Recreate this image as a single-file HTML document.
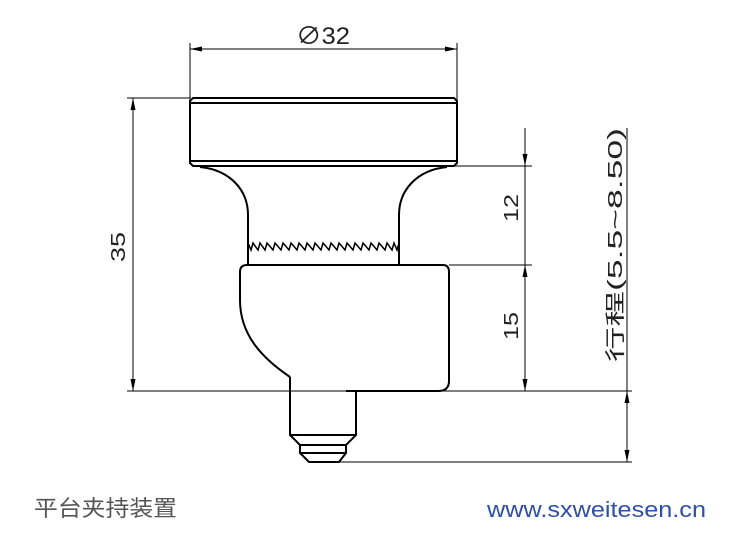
<!DOCTYPE html>
<html><head><meta charset="utf-8"><style>
html,body{margin:0;padding:0;background:#fff;}
svg{display:block}
</style></head><body>
<svg width="741" height="538" viewBox="0 0 741 538" xmlns="http://www.w3.org/2000/svg">
<defs>
<marker id="a" viewBox="0 0 12 6" refX="12" refY="3" markerWidth="12" markerHeight="6" markerUnits="userSpaceOnUse" orient="auto-start-reverse"><path d="M0,0.5 L12,3 L0,5.5z" fill="#000"/></marker>
</defs>
<g fill="none" stroke="#000" stroke-width="1">
<line x1="190" y1="43" x2="190" y2="100"/>
<line x1="457" y1="43" x2="457" y2="100"/>
<line x1="190" y1="49" x2="457" y2="49" marker-start="url(#a)" marker-end="url(#a)"/>
<line x1="127" y1="98" x2="190" y2="98"/>
<line x1="127" y1="391" x2="632" y2="391"/>
<line x1="133" y1="98" x2="133" y2="391" marker-start="url(#a)" marker-end="url(#a)"/>
<line x1="447" y1="166" x2="532" y2="166"/>
<line x1="449" y1="265" x2="532" y2="265"/>
<line x1="525" y1="128" x2="525" y2="166" marker-end="url(#a)"/>
<line x1="525" y1="166" x2="525" y2="265"/>
<line x1="525" y1="265" x2="525" y2="391" marker-start="url(#a)" marker-end="url(#a)"/>
<line x1="627" y1="128" x2="627" y2="462"/>
<line x1="627" y1="420" x2="627" y2="391" marker-end="url(#a)"/>
<line x1="627" y1="430" x2="627" y2="462" marker-end="url(#a)"/>
<line x1="339" y1="462" x2="632" y2="462"/>
</g>
<g fill="none" stroke="#000" stroke-width="2">
<path d="M193,98 H454 L457,101 V163 L454,166 H193 L190,163 V101 Z"/>
<line x1="191" y1="103" x2="456" y2="103"/>
<line x1="191" y1="161" x2="456" y2="161"/>
<path d="M200,167 C230,170 248,190 248,215 V265"/>
<path d="M447,167 C417,170 399,190 399,215 V265"/>
<polyline stroke-width="1.5" points="248,243 251,250 253,243 258,250 260,243 265,250 267,243 273,250 275,243 281,250 283,243 289,250 291,243 297,250 299,243 305,250 307,243 313,250 315,243 321,250 323,243 329,250 331,243 337,250 339,243 345,250 347,243 353,250 355,243 361,250 363,243 369,250 371,243 377,250 379,243 385,250 387,243 392,250 394,243 397,250 399,243"/>
<path d="M290,377 C262,358 240,335 240,300 V272 Q240,265 247,265 H443 Q449,265 449,272 V381 Q449,391 438,391 H346"/>
<path d="M290,377 V435 L300,445 V453 L309,462 H339 L346,453 V445 L356,435 V391"/>
<line x1="290" y1="435" x2="356" y2="435"/>
<line x1="300" y1="445" x2="346" y2="445"/>
<line x1="300" y1="453" x2="346" y2="453"/>
</g>
<g font-family="'Liberation Sans','Noto Sans CJK SC',sans-serif" fill="#222">
<text x="296" y="44" font-size="24" textLength="54" lengthAdjust="spacingAndGlyphs">∅32</text>
<text transform="translate(125,262) rotate(-90)" font-size="20" textLength="30" lengthAdjust="spacingAndGlyphs">35</text>
<text transform="translate(518,222) rotate(-90)" font-size="20" textLength="28" lengthAdjust="spacingAndGlyphs">12</text>
<text transform="translate(518,340) rotate(-90)" font-size="20" textLength="28" lengthAdjust="spacingAndGlyphs">15</text>
<text transform="translate(622,362) rotate(-90)" font-size="20" textLength="234" lengthAdjust="spacingAndGlyphs">行程(5.5~8.50)</text>
<text x="34" y="516" font-size="22" fill="#555" textLength="143" lengthAdjust="spacingAndGlyphs">平台夹持装置</text>
<text x="487" y="517" font-size="22" fill="#2f4fa8" textLength="219" lengthAdjust="spacingAndGlyphs">www.sxweitesen.cn</text>
</g>
</svg>
</body></html>
